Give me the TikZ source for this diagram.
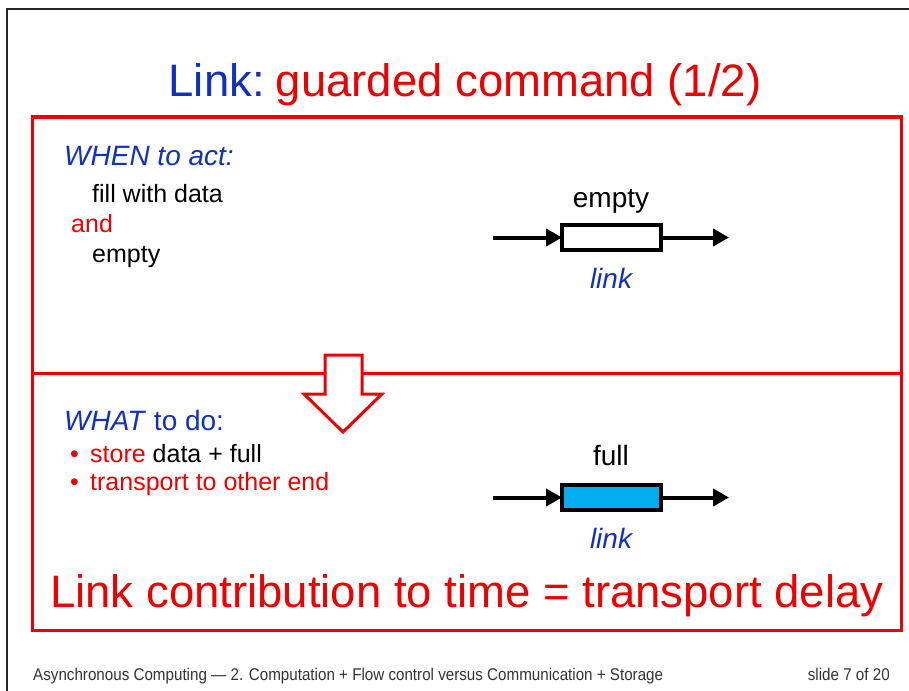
\documentclass[tikz,border=0pt]{standalone}
\usepackage{fontspec}
\setmainfont{Liberation Sans}
\usetikzlibrary{arrows.meta}

\definecolor{slideblue}{HTML}{1030C0}
\definecolor{slidered}{HTML}{EE0000}
\definecolor{linkfill}{HTML}{00AEEF}

\newcommand{\fsz}[1]{\fontsize{#1}{#1}\selectfont}

\tikzset{
  txt/.style={inner sep=0pt, anchor=base west},
  ctxt/.style={inner sep=0pt, anchor=base},
  linkbox/.style={draw=black, line width=4pt, minimum width=99pt, minimum height=25pt, inner sep=0pt},
  flow/.style={line width=4pt, -{Triangle[length=16pt,width=17pt]}},
  frame/.style={draw=slidered, line width=3pt},
}

\begin{document}
\begin{tikzpicture}[x=1pt,y=-1pt]
  \useasboundingbox (0,0) rectangle (909,690);

  % slide edge
  \draw[line width=2.5pt, black!85] (7,700) -- (7,9) -- (920,9);

  % title
  \node[ctxt] (title) at (465,97)
    {\fsz{45.5}\textcolor{slideblue}{Link:}\hspace{11pt}\textcolor{slidered}{guarded command (1/2)}};

  % red frame split into two panels
  \draw[frame] (32,117) rectangle (901,630);
  \draw[frame] (32,373) -- (901,373);

  % hollow down arrow between the panels
  \draw[draw=slidered, line width=3pt, fill=white, line join=miter]
    (325,355) -- (362,355) -- (362,394) -- (382,394) -- (343,432) -- (304,394) -- (325,394) -- cycle;

  % upper panel: the guard
  \node[txt, text=slideblue] (when) at (64,165) {\fsz{28}\itshape WHEN to act:};
  \node[txt] (fill) at (92,202) {\fsz{25}fill with data};
  \node[txt, text=slidered] (and) at (71,232) {\fsz{25}and};
  \node[txt] (emptycond) at (92,262) {\fsz{25}empty};

  \node[linkbox, fill=white] (boxA) at (611.5,237.5) {};
  \coordinate (inA) at (493,237.5);
  \coordinate (outA) at (729,237.5);
  \draw[flow] (inA) -- ([xshift=2pt]boxA.west);
  \draw[flow] (boxA.east) -- (outA);
  \node[ctxt] (emptylbl) at (611,207) {\fsz{28}empty};
  \node[ctxt, text=slideblue] (linkA) at (611,288) {\fsz{28}\itshape link};

  % lower panel: the command
  \node[txt, text=slideblue] (what) at (64,430) {\fsz{28}\textit{WHAT} to do:};
  \node[txt, text=slidered] (b1) at (70,462) {\fsz{25}•};
  \node[txt] (store) at (90,462) {\fsz{25}\textcolor{slidered}{store} data + full};
  \node[txt, text=slidered] (b2) at (70,490) {\fsz{25}•};
  \node[txt, text=slidered] (transport) at (90,490) {\fsz{25}transport to other end};

  \node[linkbox, fill=linkfill] (boxB) at (611.5,497.5) {};
  \coordinate (inB) at (493,497.5);
  \coordinate (outB) at (729,497.5);
  \draw[flow] (inB) -- ([xshift=2pt]boxB.west);
  \draw[flow] (boxB.east) -- (outB);
  \node[ctxt] (fulllbl) at (611,465) {\fsz{28}full};
  \node[ctxt, text=slideblue] (linkB) at (611,548) {\fsz{28}\itshape link};

  \node[txt, text=slidered] (summary) at (50,607)
    {\fsz{45.5}Link contribution to time = transport delay};

  % footer
  \node[txt, text=black!80] (foot) at (33,680)
    {\resizebox{630pt}{12.3pt}{Asynchronous Computing — 2. Computation + Flow control versus Communication + Storage}};
  \node[inner sep=0pt, anchor=base east, text=black!80] (page) at (890,680)
    {\resizebox{82pt}{12.3pt}{slide 7 of 20}};
\end{tikzpicture}
\end{document}
